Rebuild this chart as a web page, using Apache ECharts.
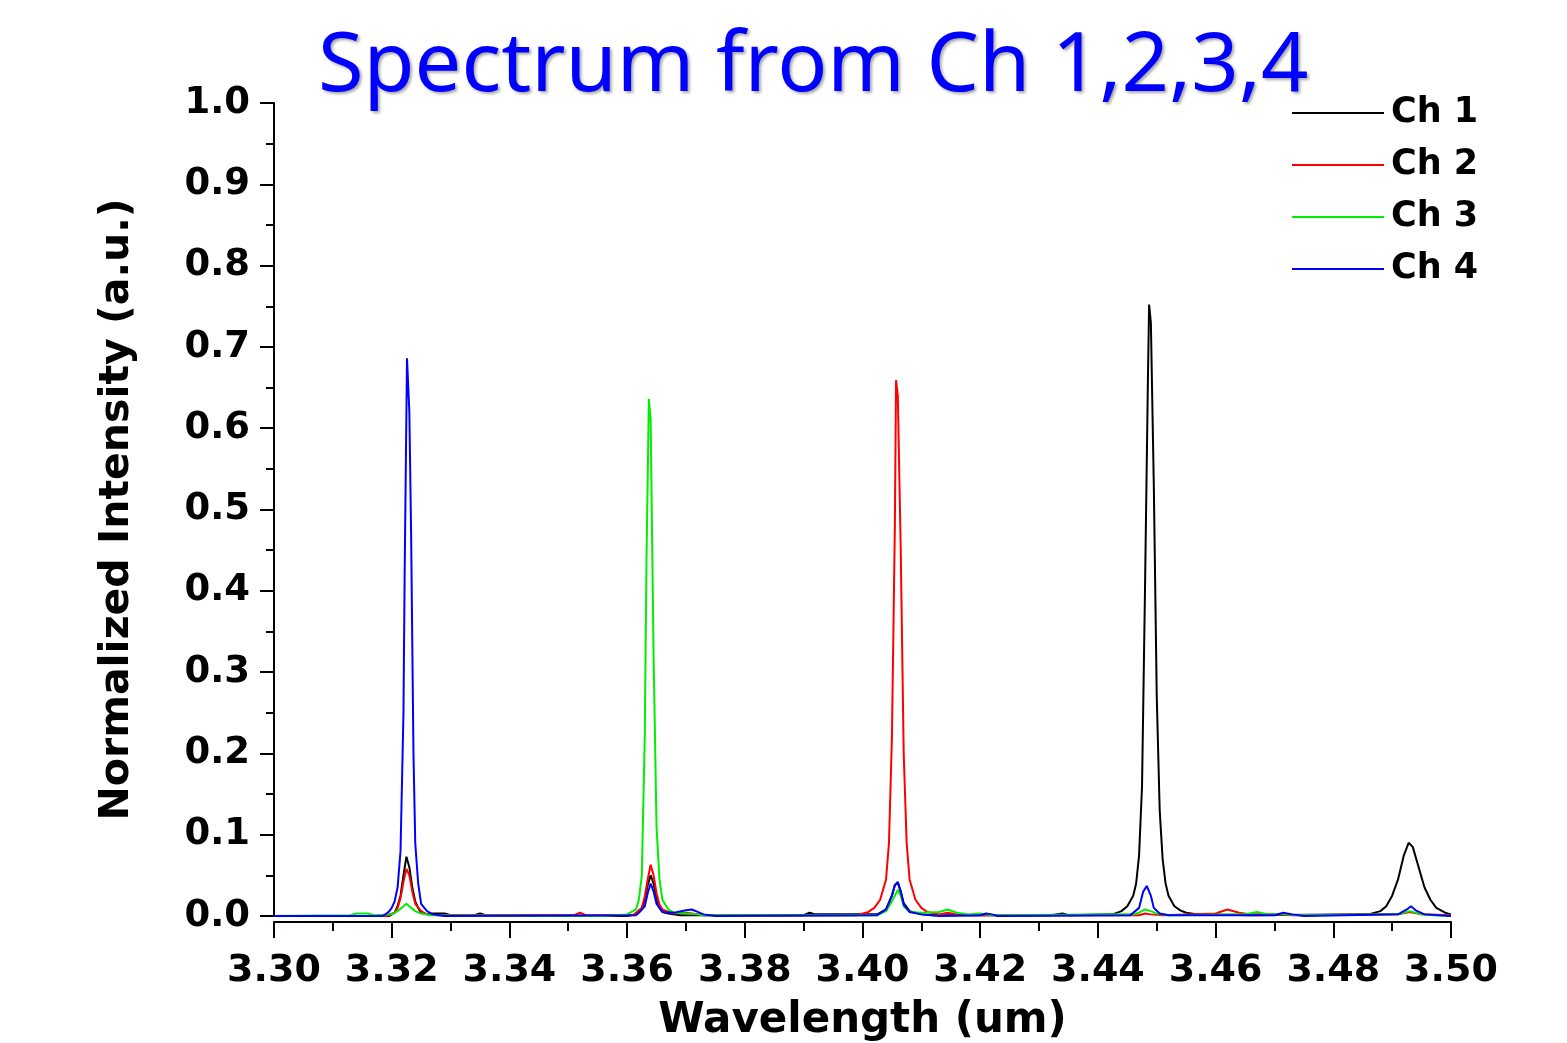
<!DOCTYPE html>
<html>
<head>
<meta charset="utf-8">
<script src="https://cdn.jsdelivr.net/npm/echarts@6/dist/echarts.min.js"></script>
<style>
  html, body { margin: 0; padding: 0; background: #fff; }
  #main { width: 1567px; height: 1043px; }
</style>
</head>
<body>
<div id="main"></div>
<script>
// values: [wavelength (um), normalized intensity]
var ch1 = [
  [3.300, 0], [3.3195, 0], [3.3205, 0.004], [3.321, 0.012], [3.3215, 0.025], [3.322, 0.05],
  [3.3225, 0.073], [3.323, 0.06], [3.3235, 0.035], [3.324, 0.018], [3.3245, 0.01], [3.325, 0.004],
  [3.326, 0.002], [3.327, 0.003], [3.329, 0.003], [3.330, 0.001], [3.334, 0.001], [3.335, 0.003],
  [3.336, 0.001], [3.360, 0], [3.3615, 0.002], [3.3625, 0.008], [3.363, 0.02], [3.3635, 0.038],
  [3.364, 0.05], [3.3645, 0.04], [3.365, 0.02], [3.3655, 0.01], [3.366, 0.005], [3.367, 0.003],
  [3.369, 0.001], [3.390, 0.001], [3.391, 0.004], [3.392, 0.002], [3.396, 0.002], [3.4025, 0.002],
  [3.404, 0.008], [3.405, 0.025], [3.4055, 0.038], [3.406, 0.041], [3.4065, 0.03], [3.407, 0.016],
  [3.408, 0.006], [3.410, 0.002], [3.412, 0.001], [3.432, 0.001], [3.434, 0.003], [3.435, 0.001],
  [3.4425, 0.002], [3.444, 0.006], [3.445, 0.012], [3.446, 0.025], [3.4465, 0.04], [3.447, 0.075],
  [3.4475, 0.16], [3.448, 0.40], [3.4485, 0.66], [3.4487, 0.752], [3.449, 0.73], [3.4495, 0.53],
  [3.450, 0.27], [3.4505, 0.13], [3.451, 0.07], [3.4515, 0.04], [3.452, 0.025], [3.453, 0.012],
  [3.454, 0.007], [3.455, 0.004], [3.457, 0.002], [3.466, 0.001], [3.486, 0.002], [3.488, 0.006],
  [3.489, 0.012], [3.490, 0.025], [3.491, 0.045], [3.492, 0.075], [3.4928, 0.09], [3.4935, 0.085],
  [3.4945, 0.06], [3.4955, 0.035], [3.4965, 0.02], [3.4975, 0.01], [3.499, 0.004], [3.500, 0.002]
];
var ch2 = [
  [3.300, 0], [3.319, 0], [3.3205, 0.004], [3.321, 0.01], [3.3215, 0.022], [3.322, 0.042],
  [3.3225, 0.058], [3.323, 0.05], [3.3235, 0.03], [3.324, 0.015], [3.325, 0.006], [3.326, 0.002],
  [3.328, 0.001], [3.351, 0.001], [3.352, 0.004], [3.353, 0.001], [3.361, 0.001], [3.3625, 0.01],
  [3.363, 0.024], [3.3635, 0.045], [3.364, 0.063], [3.3645, 0.05], [3.365, 0.028], [3.3655, 0.014],
  [3.366, 0.008], [3.367, 0.005], [3.368, 0.003], [3.370, 0.004], [3.371, 0.003], [3.373, 0.001],
  [3.399, 0.001], [3.401, 0.005], [3.402, 0.01], [3.403, 0.02], [3.404, 0.045], [3.4045, 0.09],
  [3.405, 0.22], [3.4055, 0.48], [3.4057, 0.659], [3.406, 0.64], [3.4065, 0.45], [3.407, 0.2],
  [3.4075, 0.09], [3.408, 0.045], [3.409, 0.02], [3.410, 0.01], [3.411, 0.005], [3.413, 0.002],
  [3.4145, 0.004], [3.416, 0.002], [3.418, 0.001], [3.447, 0.001], [3.448, 0.003], [3.449, 0.002],
  [3.451, 0.001], [3.460, 0.003], [3.462, 0.008], [3.464, 0.004], [3.466, 0.002], [3.470, 0.002],
  [3.473, 0.001], [3.491, 0.002], [3.493, 0.005], [3.495, 0.002], [3.500, 0.001]
];
var ch3 = [
  [3.300, 0], [3.313, 0.001], [3.314, 0.003], [3.316, 0.003], [3.317, 0.001], [3.320, 0.002],
  [3.321, 0.006], [3.322, 0.012], [3.3225, 0.015], [3.323, 0.012], [3.324, 0.006], [3.325, 0.003],
  [3.326, 0.002], [3.3265, 0.001], [3.356, 0], [3.360, 0.002], [3.3615, 0.008], [3.362, 0.02],
  [3.3625, 0.05], [3.363, 0.22], [3.3633, 0.44], [3.3637, 0.636], [3.364, 0.61], [3.3645, 0.32],
  [3.365, 0.11], [3.3655, 0.045], [3.366, 0.02], [3.367, 0.008], [3.368, 0.004], [3.370, 0.003],
  [3.372, 0.002], [3.373, 0.001], [3.4025, 0.001], [3.404, 0.006], [3.405, 0.018], [3.406, 0.032],
  [3.4065, 0.025], [3.407, 0.012], [3.408, 0.005], [3.410, 0.004], [3.413, 0.005], [3.4145, 0.008],
  [3.416, 0.004], [3.418, 0.002], [3.420, 0.003], [3.422, 0.001], [3.446, 0.002], [3.447, 0.004],
  [3.448, 0.008], [3.449, 0.006], [3.450, 0.003], [3.452, 0.001], [3.465, 0.002], [3.467, 0.005],
  [3.469, 0.002], [3.472, 0.002], [3.474, 0.001], [3.491, 0.002], [3.493, 0.006], [3.495, 0.002],
  [3.497, 0.001], [3.500, 0]
];
var ch4 = [
  [3.300, 0], [3.3185, 0], [3.3195, 0.005], [3.320, 0.01], [3.3205, 0.018], [3.321, 0.035],
  [3.3215, 0.08], [3.322, 0.25], [3.3222, 0.42], [3.3226, 0.686], [3.323, 0.62], [3.3233, 0.47],
  [3.3237, 0.2], [3.324, 0.09], [3.3245, 0.04], [3.325, 0.015], [3.326, 0.006], [3.327, 0.002],
  [3.329, 0], [3.3615, 0.001], [3.362, 0.004], [3.363, 0.012], [3.3635, 0.028], [3.364, 0.04],
  [3.3645, 0.03], [3.365, 0.015], [3.366, 0.005], [3.368, 0.004], [3.370, 0.007], [3.371, 0.008],
  [3.372, 0.005], [3.373, 0.002], [3.375, 0], [3.4025, 0.001], [3.404, 0.008], [3.405, 0.025],
  [3.4055, 0.038], [3.406, 0.042], [3.4065, 0.03], [3.407, 0.014], [3.408, 0.005], [3.410, 0.002],
  [3.413, 0], [3.420, 0.001], [3.421, 0.003], [3.422, 0.002], [3.423, 0], [3.4455, 0.001],
  [3.447, 0.01], [3.4477, 0.03], [3.4483, 0.037], [3.449, 0.025], [3.4495, 0.01], [3.4505, 0.003],
  [3.452, 0.001], [3.470, 0.001], [3.4715, 0.004], [3.473, 0.002], [3.475, 0], [3.491, 0.002],
  [3.4925, 0.008], [3.4932, 0.012], [3.494, 0.007], [3.4955, 0.002], [3.500, 0]
];
var seriesNames = ['Ch 1', 'Ch 2', 'Ch 3', 'Ch 4'];
var seriesColors = ['#000000', '#ff0000', '#00ee00', '#0000ff'];
var seriesData = [ch1, ch2, ch3, ch4];

var axisFont = 'DejaVu Sans';

var series = [];
for (var i = 0; i < seriesData.length; i++) {
  series.push({
    name: seriesNames[i],
    type: 'line',
    data: seriesData[i],
    symbol: 'none',
    color: seriesColors[i],
    lineStyle: { width: 2 },
    animation: false
  });
}

var myChart = echarts.init(document.getElementById('main'));
myChart.setOption({
  backgroundColor: '#ffffff',
  title: {
    text: 'Spectrum from Ch 1,2,3,4',
    left: 313,
    top: 21,
    textStyle: {
      fontFamily: 'Noto Sans',
      fontWeight: 'normal',
      fontSize: 83,
      color: '#0000ff',
      textShadowColor: 'rgba(0,0,0,0.35)',
      textShadowBlur: 3,
      textShadowOffsetX: 2,
      textShadowOffsetY: 2
    }
  },
  legend: {
    orient: 'vertical',
    left: 1287,
    top: 88,
    icon: 'rect',
    itemWidth: 92,
    itemHeight: 2,
    itemGap: 12,
    data: seriesNames,
    textStyle: {
      fontFamily: axisFont,
      fontWeight: 'bold',
      fontSize: 35,
      lineHeight: 40,
      color: '#000',
      padding: [0, 0, 0, 2]
    }
  },
  grid: { left: 274, right: 116, top: 103, bottom: 127, containLabel: false, outerBoundsMode: 'none' },
  xAxis: {
    type: 'value',
    min: 3.30,
    max: 3.50,
    interval: 0.02,
    offset: 6,
    name: 'Wavelength (um)',
    nameLocation: 'middle',
    nameGap: 78,
    nameTextStyle: { fontFamily: axisFont, fontWeight: 'bold', fontSize: 42, color: '#000' },
    axisLine: { show: true, onZero: false, lineStyle: { color: '#000', width: 2 } },
    axisTick: { show: true, inside: false, length: 16, lineStyle: { color: '#000', width: 2 } },
    minorTick: { show: true, splitNumber: 2, length: 9, lineStyle: { color: '#000', width: 2 } },
    axisLabel: {
      margin: 30,
      fontFamily: axisFont,
      fontWeight: 'bold',
      fontSize: 38,
      color: '#000',
      formatter: function (v) { return v.toFixed(2); }
    },
    splitLine: { show: false }
  },
  yAxis: {
    type: 'value',
    min: 0,
    max: 1.0,
    interval: 0.1,
    name: 'Normalized Intensity (a.u.)',
    nameLocation: 'middle',
    nameGap: 136,
    nameTextStyle: { fontFamily: axisFont, fontWeight: 'bold', fontSize: 41, color: '#000' },
    axisLine: { show: true, lineStyle: { color: '#000', width: 2 } },
    axisTick: { show: true, inside: false, length: 14, lineStyle: { color: '#000', width: 2 } },
    minorTick: { show: true, splitNumber: 2, length: 8, lineStyle: { color: '#000', width: 2 } },
    axisLabel: {
      margin: 24,
      fontFamily: axisFont,
      fontWeight: 'bold',
      fontSize: 37,
      color: '#000',
      formatter: function (v) { return v.toFixed(1); }
    },
    splitLine: { show: false }
  },
  series: series
});
</script>
</body>
</html>
